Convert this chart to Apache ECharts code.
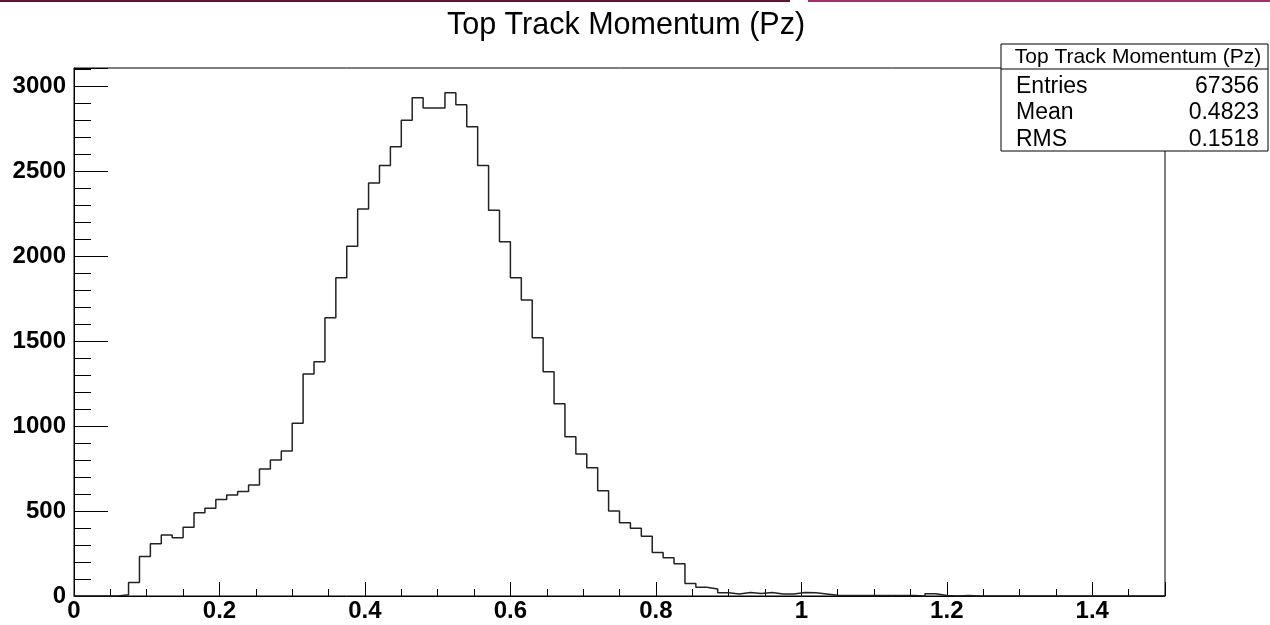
<!DOCTYPE html>
<html><head><meta charset="utf-8">
<script src="https://cdn.jsdelivr.net/npm/echarts@6/dist/echarts.min.js"></script>
<style>html,body{margin:0;padding:0;background:#fff}#c{width:1270px;height:625px}</style>
</head><body><div id="c"></div>
<script>
const histTitle = 'Top Track Momentum (Pz)';
const binLow = 0;
const binHigh = 1.5;
const counts = [
  0, 0, 0, 0, 8, 80, 233, 308, 359, 343,
  404, 490, 516, 567, 594, 614, 653, 747, 800, 853,
  1016, 1306, 1378, 1637, 1872, 2057, 2276, 2429, 2533, 2643,
  2798, 2931, 2870, 2870, 2961, 2890, 2761, 2533, 2269, 2084,
  1872, 1741, 1519, 1319, 1131, 937, 835, 755, 619, 500,
  431, 398, 352, 256, 225, 189, 73, 51, 41, 19,
  12, 21, 14, 21, 12, 12, 21, 19, 12, 4,
  3, 3, 3, 3, 3, 3, 3, 0, 13, 3,
  0, 3, 0, 0, 0, 0, 0, 0, 0, 0,
  0, 0, 0, 0, 0, 0, 0, 0, 0, 0
];
const yMax = 3106;
const statNames = ['Entries', 'Mean', 'RMS'];
const statValues = ['67356', '0.4823', '0.1518'];

const binW = (binHigh - binLow) / counts.length;
const stepData = counts.map((v, i) => [+(binLow + i * binW).toFixed(4), v]);
stepData.push([binHigh, counts[counts.length - 1]]);

const FONT = '"Liberation Sans", Arial, Helvetica, sans-serif';
const chart = echarts.init(document.getElementById('c'), null, {renderer: 'canvas'});

const statGraphics = [];
statGraphics.push({type: 'rect', z: 100, shape: {x: 1001, y: 44, width: 267, height: 107},
  style: {fill: '#fff', stroke: '#000', lineWidth: 1}});
statGraphics.push({type: 'line', z: 101, shape: {x1: 1001, y1: 69, x2: 1268, y2: 69},
  style: {stroke: '#000', lineWidth: 1}});
statGraphics.push({type: 'text', z: 102, x: 1138, y: 57,
  style: {text: histTitle, font: '21px ' + FONT, fill: '#000', textAlign: 'center', textVerticalAlign: 'middle'}});
statNames.forEach((n, i) => {
  statGraphics.push({type: 'text', z: 102, x: 1016, y: 86.5 + i * 26.5,
    style: {text: n, font: '23px ' + FONT, fill: '#000', textAlign: 'left', textVerticalAlign: 'middle'}});
  statGraphics.push({type: 'text', z: 102, x: 1259, y: 86.5 + i * 26.5,
    style: {text: statValues[i], font: '23px ' + FONT, fill: '#000', textAlign: 'right', textVerticalAlign: 'middle'}});
});

const option = {
  animation: false,
  backgroundColor: '#fff',
  title: {
    text: histTitle, left: 621, top: 5, textAlign: 'center',
    textStyle: {fontSize: 30.5, fontWeight: 'normal', fontFamily: FONT, color: '#000'}
  },
  grid: {left: 74, right: 105, top: 68, bottom: 29, show: true, borderColor: '#000', borderWidth: 1, backgroundColor: 'transparent'},
  xAxis: [
    {type: 'value', min: binLow, max: binHigh, interval: 0.2, position: 'bottom',
      axisLine: {show: true, onZero: false, lineStyle: {color: '#000', width: 1}},
      axisTick: {show: true, inside: true, length: 14, lineStyle: {color: '#000', width: 1}},
      axisLabel: {fontSize: 24, fontWeight: 'bold', fontFamily: FONT, color: '#000', margin: 3,
        formatter: v => (Math.abs(v / 0.2 - Math.round(v / 0.2)) < 1e-6 ? String(+v.toFixed(2)) : '')},
      splitLine: {show: false}},
    {type: 'value', min: binLow, max: binHigh, interval: 0.05, position: 'bottom',
      axisLine: {show: false, onZero: false},
      axisTick: {show: true, inside: true, length: 7, lineStyle: {color: '#000', width: 1}},
      axisLabel: {show: false}, splitLine: {show: false}}
  ],
  yAxis: [
    {type: 'value', min: 0, max: yMax, interval: 500, position: 'left',
      axisLine: {show: true, onZero: false, lineStyle: {color: '#000', width: 1}},
      axisTick: {show: true, inside: true, length: 34, lineStyle: {color: '#000', width: 1}},
      axisLabel: {fontSize: 24, fontWeight: 'bold', fontFamily: FONT, color: '#000', margin: 8,
        formatter: v => (v % 500 === 0 ? String(v) : '')},
      splitLine: {show: false}},
    {type: 'value', min: 0, max: yMax, interval: 100, position: 'left',
      axisLine: {show: false, onZero: false},
      axisTick: {show: true, inside: true, length: 17, lineStyle: {color: '#000', width: 1}},
      axisLabel: {show: false}, splitLine: {show: false}}
  ],
  series: [{
    type: 'line', step: 'end', data: stepData, xAxisIndex: 0, yAxisIndex: 0,
    symbol: 'none', lineStyle: {color: '#222', width: 1.5}, z: 5
  }],
  graphic: [
    {type: 'rect', shape: {x: 0, y: 0, width: 790, height: 2}, style: {fill: '#5a1538'}},
    {type: 'rect', shape: {x: 808, y: 0, width: 462, height: 2}, style: {fill: '#a3306a'}}
  ].concat(statGraphics)
};
chart.setOption(option);
</script>
</body></html>
